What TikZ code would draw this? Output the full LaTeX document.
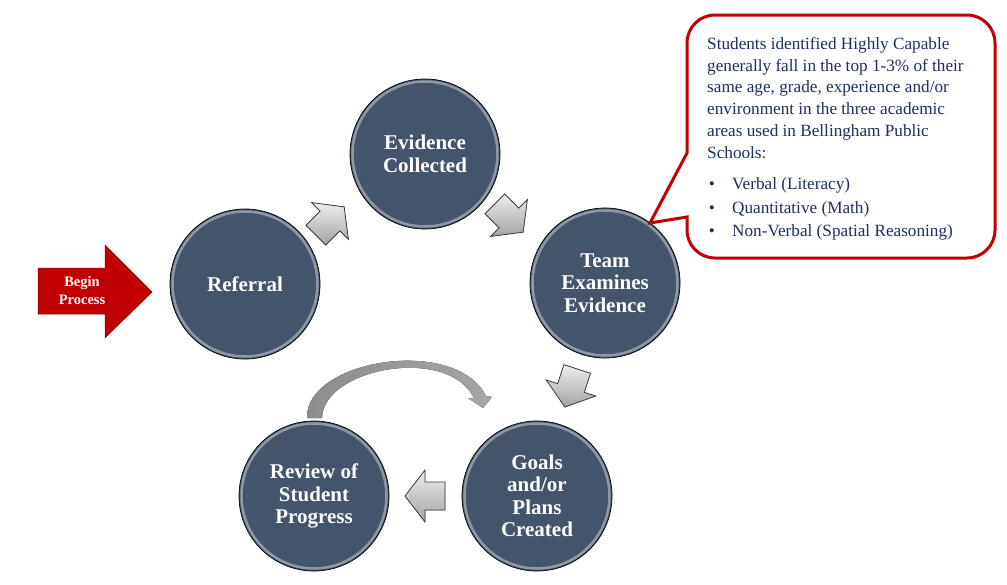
\documentclass[tikz,border=0pt]{standalone}
\usepackage{fontspec}
\setmainfont{Liberation Serif}
\begin{document}
\definecolor{slate}{HTML}{44546A}
\definecolor{beginred}{HTML}{C00000}
\definecolor{calloutred}{HTML}{C00000}
\definecolor{navytext}{HTML}{1F2F5F}
\definecolor{arrowlight}{HTML}{EEEEEE}
\definecolor{arrowdark}{HTML}{A3A3A3}
\begin{tikzpicture}[x=1pt,y=-1pt,
  stage/.style={circle, minimum size=150pt, inner sep=0pt, fill=slate, draw=black, line width=0.7pt,
    text=white, align=center, font=\bfseries\fontsize{21}{22.5}\selectfont},
  rim/.style={draw=white, draw opacity=0.4, line width=2.5pt},
  flowarrow/.style={top color=arrowlight, bottom color=arrowdark, draw=black!75, line width=0.8pt, line join=miter},
  calloutline/.style={anchor=base west, inner sep=0pt, text=navytext, font=\fontsize{17.2}{21.7}\selectfont},
  bulletmark/.style={anchor=base, inner sep=0pt, text=navytext, font=\fontsize{17.2}{21.7}\selectfont}
]
\useasboundingbox (0,0) rectangle (1007,584);
\fill[white] (0,0) rectangle (1007,584);

% cycle stages
\node[stage] (referral) at (245,284) {Referral};
\node[stage] (evidence) at (425,154) {Evidence\\Collected};
\node[stage] (team) at (605,283) {Team\\Examines\\Evidence};
\node[stage] (goals) at (537,496) {Goals\\and/or\\Plans\\Created};
\node[stage] (review) at (314,496) {Review of\\Student\\Progress};
\foreach \c in {referral,evidence,team,goals,review}
  \draw[rim] (\c.center) circle[radius=72.5];

% block arrows between the stages
\foreach \name/\px/\py/\ang in {a1/330/221/45, a2/509/218/-45, a3/571/388/-108, a4/425/496/180}{
  \coordinate (\name) at (\px,\py);
  \filldraw[flowarrow, shift={(\name)}, rotate=\ang]
    (-20,-14) -- (0,-14) -- (0,-26) -- (20,0) -- (0,26) -- (0,14) -- (-20,14) -- cycle;
}

% curved return arrow above the review stage
\coordinate (cstart) at (314,418);
\fill[shading=axis, left color=black!45, middle color=black!15, right color=black!35]
  (307,418) .. controls (305,360) and (455,335) .. (486,396)
  -- (492,397) -- (483,408) -- (468,398) -- (474,398)
  .. controls (448,345) and (323,368) .. (322,418) -- cycle;

% start arrow
\filldraw[fill=beginred, draw=beginred!70!black, line width=0.5pt, line join=miter]
  (38,268) -- (105,268) -- (105,245) -- (152,292) -- (105,338) -- (105,314) -- (38,314) -- cycle;
\node[text=white, align=center, font=\bfseries\fontsize{14.5}{18}\selectfont] (begin) at (82,291) {Begin\\Process};

% callout with pointer
\filldraw[fill=white, draw=calloutred, line width=3pt, line join=miter]
  (687,153) -- (687,43) arc[start angle=180, end angle=270, radius=28]
  -- (967,15) arc[start angle=270, end angle=360, radius=28]
  -- (995,230) arc[start angle=0, end angle=90, radius=28]
  -- (715,258) arc[start angle=90, end angle=180, radius=28]
  -- (687,217) -- (650,223) -- cycle;

\node[calloutline] (t1) at (707,49.5) {Students identified Highly Capable};
\node[calloutline] (t2) at (707,71.2) {generally fall in the top 1-3\% of their};
\node[calloutline] (t3) at (707,92.9) {same age, grade, experience and/or};
\node[calloutline] (t4) at (707,114.6) {environment in the three academic};
\node[calloutline] (t5) at (707,136.3) {areas used in Bellingham Public};
\node[calloutline] (t6) at (707,158) {Schools:};

\foreach \i/\y/\txt in {1/189/Verbal (Literacy), 2/213/Quantitative (Math), 3/236/Non-Verbal (Spatial Reasoning)}{
  \node[bulletmark] (b\i) at (712,\y) {\textbullet};
  \node[calloutline] (item\i) at (732,\y) {\txt};
}
\end{tikzpicture}
\end{document}
